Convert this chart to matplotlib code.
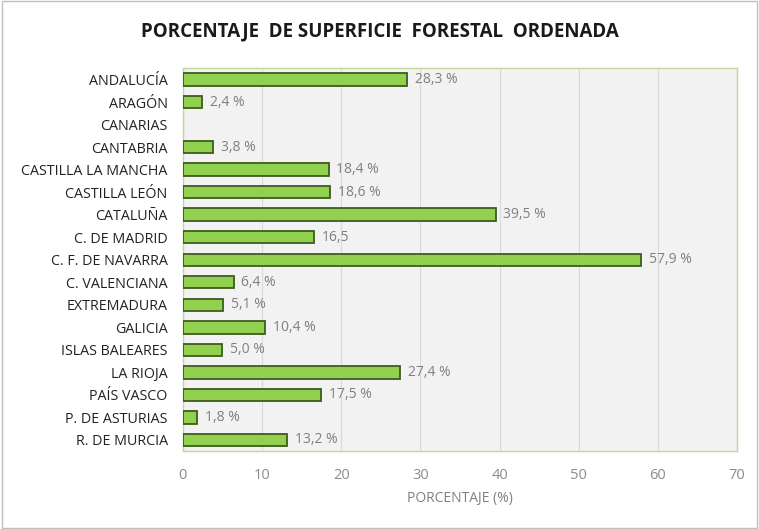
import numpy as np
import matplotlib.pyplot as plt

regions = ["ANDALUCÍA", "ARAGÓN", "CANARIAS", "CANTABRIA", "CASTILLA LA MANCHA",
           "CASTILLA LEÓN", "CATALUÑA", "C. DE MADRID", "C. F. DE NAVARRA",
           "C. VALENCIANA", "EXTREMADURA", "GALICIA", "ISLAS BALEARES",
           "LA RIOJA", "PAÍS VASCO", "P. DE ASTURIAS", "R. DE MURCIA"]
values = [28.3, 2.4, 0.0, 3.8, 18.4, 18.6, 39.5, 16.5, 57.9, 6.4, 5.1, 10.4,
          5.0, 27.4, 17.5, 1.8, 13.2]
labels = ["28,3 %", "2,4 %", "", "3,8 %", "18,4 %", "18,6 %", "39,5 %", "16,5",
          "57,9 %", "6,4 %", "5,1 %", "10,4 %", "5,0 %", "27,4 %", "17,5 %",
          "1,8 %", "13,2 %"]
xticks = [0, 10, 20, 30, 40, 50, 60, 70]

plt.rcParams['font.family'] = ['Open Sans', 'DejaVu Sans']

fig = plt.figure(figsize=(7.59, 5.29), dpi=100)
ax = fig.add_axes([0.241, 0.147, 0.730, 0.724])
ax.set_facecolor('#f2f2f2')

y = np.arange(len(regions))
# zero values get no bar (Canarias)
vals = np.array(values)
mask = vals > 0
ax.barh(y[mask], vals[mask], height=0.55, color='#92d050', edgecolor='#3d5c1e',
        linewidth=1.3, zorder=3)
for yi, v, lab in zip(y, values, labels):
    if lab:
        ax.text(v + 1.0, yi, lab, va='center', ha='left', fontsize=10, color='#808080')

ax.set_xlim(0, 70)
ax.set_ylim(len(regions) - 0.5, -0.5)
ax.set_yticks(y)
ax.set_yticklabels(regions, fontsize=10.3, color='#222222')
ax.set_xticks(xticks)
ax.set_xticklabels([str(t) for t in xticks], fontsize=10.5, color='#8c8c8c')
ax.tick_params(axis='y', length=0, pad=11)
ax.tick_params(axis='x', length=0, pad=12)
ax.grid(axis='x', color='#d9d9d9', linewidth=0.8, zorder=0)
for s in ax.spines.values():
    s.set_color('#c4d79b')
    s.set_linewidth(1.0)

ax.set_xlabel("PORCENTAJE (%)", fontsize=10, color='#808080', labelpad=6)
fig.text(0.5, 0.94, "PORCENTAJE  DE SUPERFICIE  FORESTAL  ORDENADA", ha='center', va='center',
         fontsize=13.5, fontweight='bold', color='#1a1a1a')

fig.patches.append(plt.Rectangle((0.002, 0.002), 0.996, 0.996, transform=fig.transFigure,
                                 fill=False, edgecolor='#bfbfbf', linewidth=1))

fig.savefig('out.png', dpi=100)
